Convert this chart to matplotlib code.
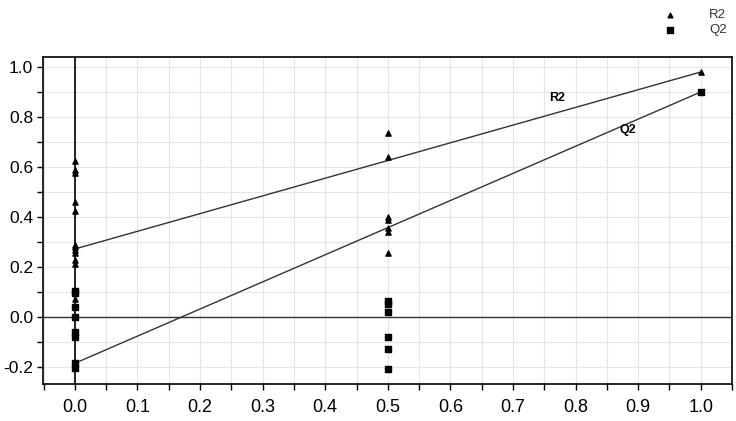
import numpy as np
import matplotlib
matplotlib.use("Agg")
import matplotlib.pyplot as plt
from matplotlib.ticker import MultipleLocator

plt.rcParams['font.family'] = ['Liberation Sans', 'DejaVu Sans']
plt.rcParams['axes.unicode_minus'] = False

# permutation results (correlation of permuted y vs original on x)
r2_x = [0]*12 + [0.5]*7 + [1.0]
r2_y = [0.625, 0.59, 0.575, 0.459, 0.425, 0.288, 0.279, 0.268, 0.255, 0.228, 0.212, 0.072,
        0.735, 0.641, 0.401, 0.388, 0.355, 0.341, 0.255,
        0.98]
q2_x = [0]*8 + [0.5]*6 + [1.0]
q2_y = [0.104, 0.095, 0.041, 0.0, -0.061, -0.081, -0.185, -0.205,
        0.065, 0.052, 0.019, -0.081, -0.127, -0.207,
        0.90]

# regression lines (intercept at 0, end at 1)
r2_line = [0.272, 0.98]
q2_line = [-0.185, 0.90]

fig = plt.figure(figsize=(7.36, 4.21), dpi=100)
ax = fig.add_axes([0.0584, 0.0879, 0.9362, 0.7767])

ax.set_xlim(-0.051, 1.05)
ax.set_ylim(-0.268, 1.04)

ax.xaxis.set_major_locator(MultipleLocator(0.1))
ax.xaxis.set_minor_locator(MultipleLocator(0.05))
ax.yaxis.set_major_locator(MultipleLocator(0.2))
ax.yaxis.set_minor_locator(MultipleLocator(0.1))
ax.grid(True, which='both', color='#e6e6e6', linewidth=0.8)
ax.set_axisbelow(True)
ax.tick_params(which='both', direction='out', length=4, width=1, labelsize=12.5, colors='black')
ax.tick_params(axis='y', pad=3)
ax.tick_params(axis='x', pad=7, labelsize=13)
for s in ax.spines.values():
    s.set_linewidth(1.2)

ax.axvline(0, color='black', linewidth=1.2, zorder=2)
ax.axhline(0, color='#333333', linewidth=1.0, zorder=2)

ax.plot([0, 1], r2_line, color='#333333', linewidth=1.0, zorder=3)
ax.plot([0, 1], q2_line, color='#333333', linewidth=1.0, zorder=3)

ax.scatter(r2_x, r2_y, marker='^', s=14, color='black', zorder=4, label='R2')
ax.scatter(q2_x, q2_y, marker='s', s=18, color='black', zorder=4, label='Q2')

ax.text(0.77, 0.876, 'R2', fontsize=9, fontweight='bold', ha='center', va='center')
ax.text(0.883, 0.748, 'Q2', fontsize=9, fontweight='bold', ha='center', va='center')

leg = ax.legend(loc='upper right', bbox_to_anchor=(1.0, 1.0), bbox_transform=fig.transFigure,
                frameon=False, fontsize=9.5, handletextpad=2.0, labelspacing=0.2,
                borderaxespad=0.3, markerscale=0.9)
for t in leg.get_texts():
    t.set_color('#333333')

fig.savefig('out.png', dpi=100)
